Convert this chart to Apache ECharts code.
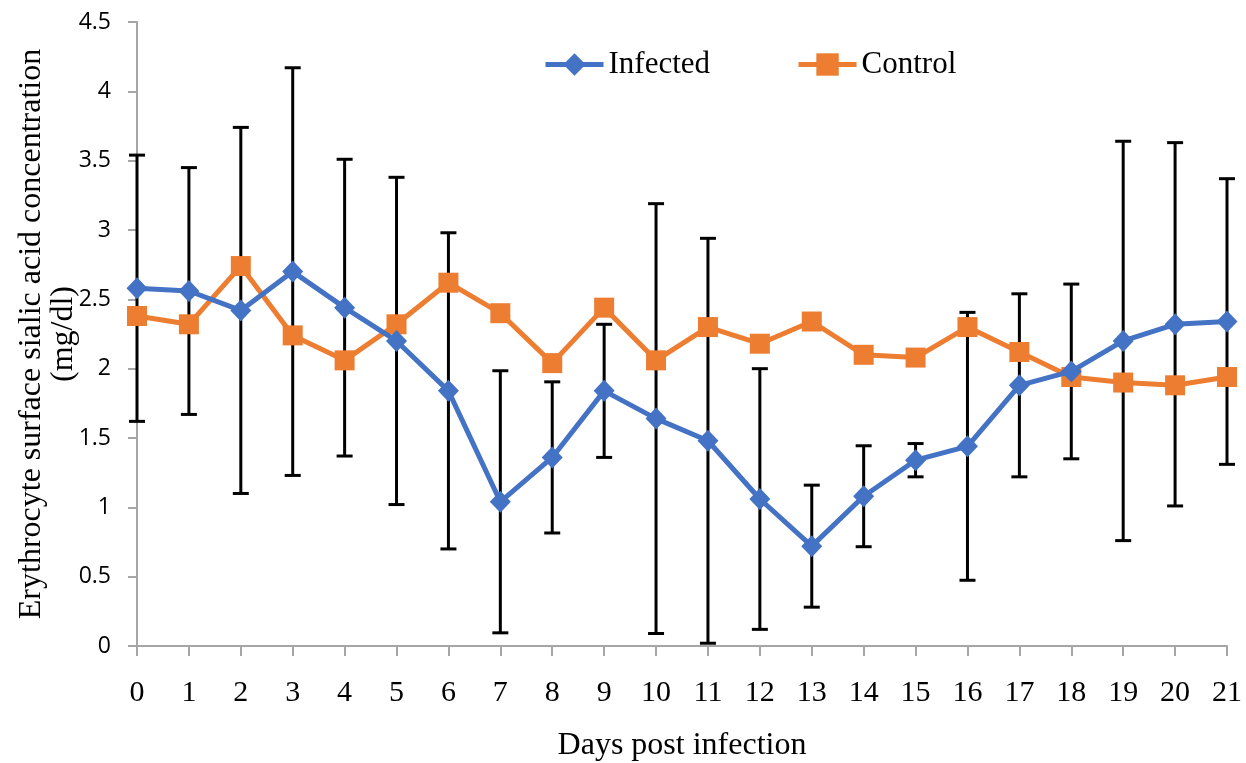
<!DOCTYPE html>
<html>
<head>
<meta charset="utf-8">
<script src="https://cdn.jsdelivr.net/npm/echarts@6/dist/echarts.min.js"></script>
<style>html,body{margin:0;padding:0;background:#fff}#c{width:1246px;height:763px}</style>
</head>
<body>
<div id="c"></div>
<script>
var days = ['0','1','2','3','4','5','6','7','8','9','10','11','12','13','14','15','16','17','18','19','20','21'];
var infected = [2.58,2.56,2.42,2.70,2.44,2.20,1.84,1.04,1.36,1.84,1.64,1.48,1.06,0.72,1.08,1.34,1.44,1.88,1.98,2.20,2.32,2.34];
var control = [2.38,2.32,2.74,2.24,2.06,2.32,2.62,2.40,2.04,2.44,2.06,2.30,2.18,2.34,2.10,2.08,2.30,2.12,1.94,1.90,1.88,1.94];
var infectedErr = [0.96,0.89,1.32,1.47,1.07,1.18,1.14,0.945,0.545,0.48,1.55,1.46,0.94,0.44,0.364,0.12,0.966,0.66,0.63,1.44,1.31,1.03];
var yTicks = {min:0, max:4.5, interval:0.5};

var errData = infected.map(function(v,i){ return [i, v - infectedErr[i], v + infectedErr[i]]; });

var chart = echarts.init(document.getElementById('c'));
chart.setOption({
  animation:false,
  backgroundColor:'#fff',
  grid:{left:137,right:19,top:22,bottom:117,containLabel:false,outerBoundsMode:'none'},
  legend:{
    top:44,left:538,itemGap:86,itemWidth:58,itemHeight:28,
    lineStyle:{width:5},
    textStyle:{fontFamily:'Liberation Serif',fontSize:31,color:'#000'},
    data:['Infected','Control']
  },
  xAxis:{
    type:'category',data:days,boundaryGap:false,
    name:'Days post infection',nameLocation:'middle',nameGap:84,nameMoveOverlap:false,
    nameTextStyle:{fontFamily:'Liberation Serif',fontSize:32,color:'#000'},
    axisLine:{lineStyle:{color:'#a6a6a6',width:2}},
    axisTick:{show:true,length:10,alignWithLabel:true,lineStyle:{color:'#a6a6a6',width:2}},
    axisLabel:{fontFamily:'Liberation Serif',fontSize:30,color:'#000',margin:32}
  },
  yAxis:{
    type:'value',min:yTicks.min,max:yTicks.max,interval:yTicks.interval,
    name:'Erythrocyte surface sialic acid concentration\n(mg/dl)',
    nameLocation:'middle',nameGap:57,nameMoveOverlap:false,
    nameTextStyle:{fontFamily:'Liberation Serif',fontSize:32,color:'#000',lineHeight:32},
    axisLine:{show:true,lineStyle:{color:'#a6a6a6',width:2}},
    axisTick:{show:true,length:9,lineStyle:{color:'#a6a6a6',width:2}},
    splitLine:{show:false},
    axisLabel:{fontFamily:'Open Sans',fontSize:23,color:'#000',margin:26}
  },
  series:[
    {
      name:'errors',type:'custom',z:1,silent:true,
      data:errData,
      renderItem:function(params,api){
        var x = api.value(0);
        var lo = api.coord([x, api.value(1)]);
        var hi = api.coord([x, api.value(2)]);
        var w = 8;
        var st = {stroke:'#000',lineWidth:3};
        return {type:'group',children:[
          {type:'line',shape:{x1:lo[0],y1:lo[1],x2:hi[0],y2:hi[1]},style:st},
          {type:'line',shape:{x1:lo[0]-w,y1:lo[1],x2:lo[0]+w,y2:lo[1]},style:st},
          {type:'line',shape:{x1:hi[0]-w,y1:hi[1],x2:hi[0]+w,y2:hi[1]},style:st}
        ]};
      }
    },
    {
      name:'Infected',type:'line',data:infected,z:3,
      symbol:'diamond',symbolSize:[21,22],
      lineStyle:{color:'#4472C4',width:5},
      itemStyle:{color:'#4472C4'}
    },
    {
      name:'Control',type:'line',data:control,z:2,
      symbol:'rect',symbolSize:20,
      lineStyle:{color:'#ED7D31',width:5},
      itemStyle:{color:'#ED7D31'}
    }
  ]
});
</script>
</body>
</html>
